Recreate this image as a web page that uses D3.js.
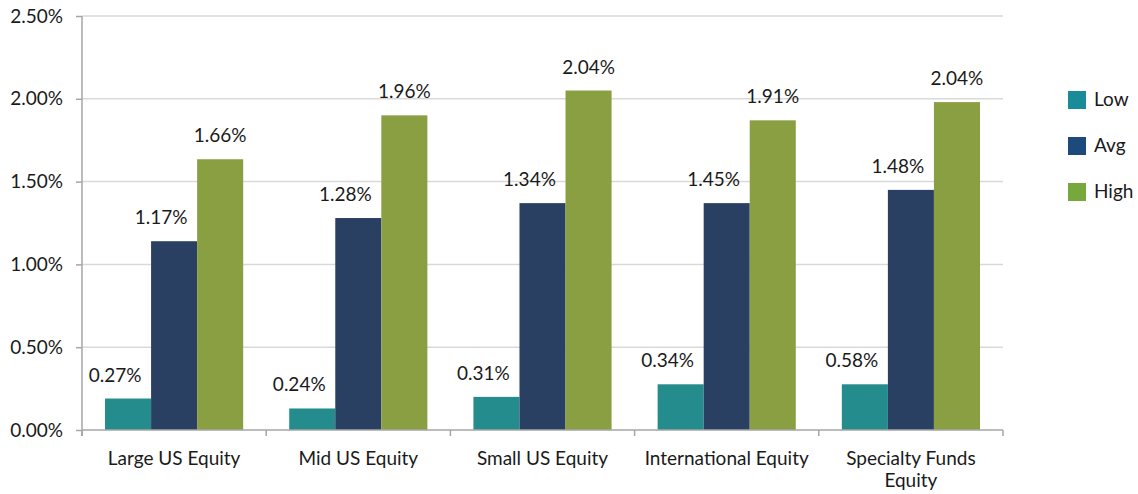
<!DOCTYPE html>
<html>
<head>
<meta charset="utf-8">
<script src="https://cdn.jsdelivr.net/npm/d3@7"></script>
<style>
  body { margin: 0; background: #fff; }
  svg text { font-family: Lato, "Liberation Sans", sans-serif; fill: #1a1a1a; }
</style>
</head>
<body>
<div class="chart"></div>
<script>
const categories = ['Large US Equity', 'Mid US Equity', 'Small US Equity', 'International Equity', 'Specialty Funds Equity'];
const seriesNames = ['Low', 'Avg', 'High'];
// bar heights as drawn (percent)
const lowBars = [0.19, 0.13, 0.20, 0.276, 0.276];
const avgBars = [1.14, 1.28, 1.37, 1.37, 1.45];
const highBars = [1.635, 1.90, 2.05, 1.87, 1.98];
// label texts as printed
const lowLabels = ['0.27%', '0.24%', '0.31%', '0.34%', '0.58%'];
const avgLabels = ['1.17%', '1.28%', '1.34%', '1.45%', '1.48%'];
const highLabels = ['1.66%', '1.96%', '2.04%', '1.91%', '2.04%'];
const yTicks = [0, 0.5, 1.0, 1.5, 2.0, 2.5];

const barColors = ['#248c8c', '#2a4063', '#8a9e42'];
const legendColors = ['#1a8c99', '#1d4a7c', '#77a83b'];

function draw_chart() {
    let width = 1138, height = 494;
    let left = 82, right = 1003, top = 16, bottom = 430;
    let fs = 19;

    let svg = d3.select('.chart')
        .append('svg')
        .attr('width', width)
        .attr('height', height);

    let x0 = d3.scaleBand()
        .domain(categories)
        .range([left, right]);

    let x1 = d3.scaleBand()
        .domain(seriesNames)
        .range([0, x0.bandwidth()])
        .paddingOuter(0.5);

    let y = d3.scaleLinear()
        .domain([0, 2.5])
        .range([bottom, top]);

    // gridlines
    svg.append('g')
        .selectAll('line')
        .data(yTicks.filter(d => d > 0))
        .join('line')
        .attr('x1', left)
        .attr('x2', right)
        .attr('y1', d => y(d))
        .attr('y2', d => y(d))
        .attr('stroke', '#d9d9d9')
        .attr('stroke-width', 1.5);

    // y axis
    let yAxis = svg.append('g')
        .attr('transform', `translate(${left},0)`)
        .call(d3.axisLeft(y)
            .tickValues(yTicks)
            .tickFormat(d => d.toFixed(2) + '%')
            .tickSize(6)
            .tickPadding(13));
    yAxis.selectAll('text')
        .attr('font-size', fs)
        .style('font-family', 'Lato, "Liberation Sans", sans-serif')
        .attr('fill', '#1a1a1a');
    yAxis.selectAll('line').attr('stroke', '#a6a6a6').attr('stroke-width', 1.5);
    yAxis.select('.domain').attr('stroke', '#a6a6a6').attr('stroke-width', 1.5)
        .attr('d', `M0,${top}V${bottom + 6}`);

    let rows = categories.map((c, i) => ({
        cat: c,
        vals: [lowBars[i], avgBars[i], highBars[i]],
        labels: [lowLabels[i], avgLabels[i], highLabels[i]]
    }));

    let groups = svg.append('g')
        .selectAll('g')
        .data(rows)
        .join('g')
        .attr('transform', d => `translate(${x0(d.cat)},0)`);

    groups.selectAll('rect')
        .data(d => d.vals.map((v, j) => ({ s: seriesNames[j], v: v, j: j })))
        .join('rect')
        .attr('x', d => x1(d.s))
        .attr('width', x1.bandwidth())
        .attr('y', d => y(d.v))
        .attr('height', d => y(0) - y(d.v))
        .attr('fill', d => barColors[d.j]);

    groups.selectAll('text')
        .data(d => d.vals.map((v, j) => ({ s: seriesNames[j], v: v, j: j, t: d.labels[j] })))
        .join('text')
        .attr('x', d => x1(d.s) + x1.bandwidth() / 2 + (d.j < 2 ? -13 : 0))
        .attr('y', d => y(d.v) - 17)
        .attr('text-anchor', 'middle')
        .attr('font-size', fs)
        .text(d => d.t);

    // x axis
    let xa = svg.append('g');
    xa.append('line')
        .attr('x1', left).attr('x2', right)
        .attr('y1', bottom).attr('y2', bottom)
        .attr('stroke', '#a6a6a6').attr('stroke-width', 1.5);
    xa.selectAll('line.tick')
        .data(categories.map(c => x0(c)).concat([right]))
        .join('line')
        .attr('class', 'tick')
        .attr('x1', d => d).attr('x2', d => d)
        .attr('y1', bottom).attr('y2', bottom + 6)
        .attr('stroke', '#a6a6a6').attr('stroke-width', 1.5);

    let catText = xa.selectAll('text')
        .data(categories)
        .join('text')
        .attr('text-anchor', 'middle')
        .attr('font-size', fs)
        .attr('x', d => x0(d) + x0.bandwidth() / 2)
        .attr('y', bottom + 35);
    catText.each(function (d) {
        let t = d3.select(this);
        let words = d.split(' ');
        let line = [];
        let tspan = t.append('tspan').attr('x', t.attr('x')).attr('dy', 0);
        words.forEach(w => {
            line.push(w);
            tspan.text(line.join(' '));
            if (tspan.node().getComputedTextLength() > 172 && line.length > 1) {
                line.pop();
                tspan.text(line.join(' '));
                line = [w];
                tspan = t.append('tspan').attr('x', t.attr('x')).attr('dy', 22).text(w);
            }
        });
    });

    // legend
    let legend = svg.append('g')
        .selectAll('g')
        .data(seriesNames)
        .join('g')
        .attr('transform', (d, i) => `translate(1068,${100 + i * 46})`);
    legend.append('rect')
        .attr('x', 0).attr('y', -9)
        .attr('width', 18).attr('height', 18)
        .attr('fill', (d, i) => legendColors[i]);
    legend.append('text')
        .attr('x', 26).attr('y', 6)
        .attr('font-size', fs)
        .text(d => d);
}

draw_chart();
</script>
</body>
</html>
